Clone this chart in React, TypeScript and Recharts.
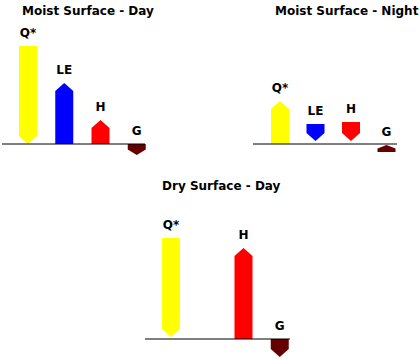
import { Bar, BarChart, Cell, LabelList, ReferenceLine, XAxis, YAxis } from "recharts";

const categories = ["Q*", "LE", "H", "G"];
const colors = ["#ffff00", "#0000ff", "#ff0000", "#660000"];

// flux ranges [low, high]; positive = above the surface line
const moistDay = [[0, 98], [0, 61], [0, 24], [-11, 0]];
const moistDayDir = ["down", "up", "up", "down"];

const moistNight = [[0, 43], [3, 20], [3, 22], [-8, -1]];
const moistNightDir = ["up", "down", "down", "up"];

const dryDay = [[2, 101], null, [0, 91], [-18, 0]];
const dryDayDir = ["down", "up", "up", "down"];

const font = "'DejaVu Sans', Verdana, sans-serif";

const Arrow = (props: any) => {
  const { x, y, width, height, fill, payload } = props;
  if (!payload || !payload.flux) return null;
  const top = Math.min(y, y + height);
  const h = Math.abs(height);
  const head = Math.min(8, h / 2);
  const l = x;
  const r = x + width;
  const m = x + width / 2;
  const b = top + h;
  const pts =
    payload.dir === "up"
      ? [[l, top + head], [m, top], [r, top + head], [r, b], [l, b]]
      : [[l, top], [r, top], [r, b - head], [m, b], [l, b - head]];
  return <polygon points={pts.map((p) => p.join(",")).join(" ")} fill={fill} />;
};

type ChartProps = {
  title: string;
  titleX: number;
  titleY: number;
  values: (number[] | null)[];
  dirs: string[];
  left: number;
  top: number;
  width: number;
  height: number;
  margin: { top: number; right: number; bottom: number; left: number };
  padding: { left: number; right: number };
};

function EnergyChart(p: ChartProps) {
  const data = categories.map((name, i) => ({
    name,
    label: p.values[i] ? name : undefined,
    flux: p.values[i],
    dir: p.dirs[i],
  }));
  return (
    <>
      <div
        style={{
          position: "absolute",
          left: p.titleX,
          top: p.titleY,
          fontFamily: font,
          fontWeight: "bold",
          fontSize: 12,
          whiteSpace: "nowrap",
        }}
      >
        {p.title}
      </div>
      <div style={{ position: "absolute", left: p.left, top: p.top }}>
        <BarChart width={p.width} height={p.height} data={data} margin={p.margin}>
          <XAxis dataKey="name" hide padding={p.padding} />
          <YAxis type="number" hide domain={[-20, 110]} allowDataOverflow />
          <ReferenceLine y={0} stroke="#000" strokeWidth={1} />
          <Bar dataKey="flux" barSize={18} shape={Arrow} isAnimationActive={false}>
            {data.map((d, i) => (
              <Cell key={d.name} fill={colors[i]} />
            ))}
            <LabelList
              dataKey="label"
              position="top"
              offset={9}
              fill="#000"
              fontSize={12}
              fontWeight="bold"
              fontFamily={font}
            />
          </Bar>
        </BarChart>
      </div>
    </>
  );
}

export default function App() {
  return (
    <div
      style={{
        position: "absolute",
        left: 0,
        top: 0,
        width: 420,
        height: 359,
        background: "#fff",
        overflow: "hidden",
      }}
    >
      <EnergyChart
        title="Moist Surface - Day"
        titleX={22}
        titleY={4}
        values={moistDay}
        dirs={moistDayDir}
        left={0}
        top={0}
        width={160}
        height={170}
        margin={{ top: 34, right: 15, bottom: 6, left: 2 }}
        padding={{ left: 8, right: -10 }}
      />
      <EnergyChart
        title="Moist Surface - Night"
        titleX={275}
        titleY={4}
        values={moistNight}
        dirs={moistNightDir}
        left={240}
        top={0}
        width={180}
        height={170}
        margin={{ top: 34, right: 23, bottom: 6, left: 13 }}
        padding={{ left: 9, right: -7 }}
      />
      <EnergyChart
        title="Dry Surface - Day"
        titleX={162}
        titleY={179}
        values={dryDay}
        dirs={dryDayDir}
        left={130}
        top={190}
        width={180}
        height={169}
        margin={{ top: 39, right: 20, bottom: 0, left: 15 }}
        padding={{ left: 8, right: -8 }}
      />
    </div>
  );
}
